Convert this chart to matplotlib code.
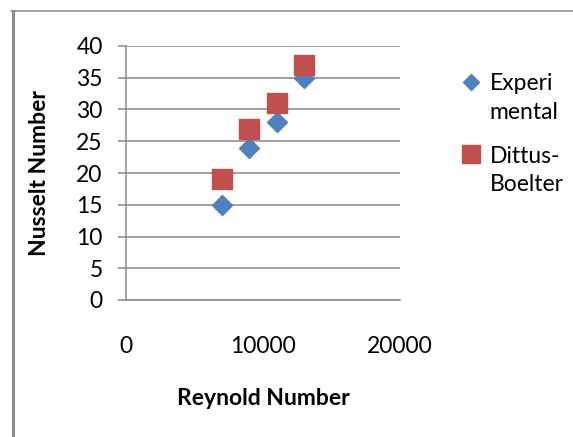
import matplotlib
matplotlib.use("Agg")
import matplotlib.pyplot as plt
from matplotlib.lines import Line2D

# data
reynolds = [7000, 9000, 11000, 13000]
nu_experimental = [15, 24, 28, 35]
nu_dittus_boelter = [19, 27, 31, 37]
y_ticks = [0, 5, 10, 15, 20, 25, 30, 35, 40]
x_ticks = [0, 10000, 20000]

plt.rcParams["font.family"] = ["Lato", "DejaVu Sans"]
grey = "#888888"
blue = "#4f81bd"
red = "#c0504d"
fs = 16.5

W, H = 573, 437
fig = plt.figure(figsize=(W / 100, H / 100), dpi=100)
ax = fig.add_axes([126 / W, 1 - 300 / H, (400 - 126) / W, (300 - 46) / H])

ax.plot(reynolds, nu_experimental, linestyle="none", marker="D", markersize=9.8,
        color=blue, label="Experi\nmental", zorder=3, clip_on=False)
ax.plot(reynolds, nu_dittus_boelter, linestyle="none", marker="s", markersize=14.5,
        color=red, label="Dittus-\nBoelter", zorder=3, clip_on=False)

ax.set_xlim(0, 20000)
ax.set_ylim(0, 40)
ax.set_xticks(x_ticks)
ax.set_yticks(y_ticks)
ax.set_yticklabels([str(v) for v in y_ticks])
ax.set_xticklabels([str(v) for v in x_ticks])
ax.yaxis.grid(True, color=grey, linewidth=1.1)
ax.set_axisbelow(True)

for side in ["top", "right"]:
    ax.spines[side].set_visible(False)
for side in ["left", "bottom"]:
    ax.spines[side].set_color(grey)
    ax.spines[side].set_linewidth(1.1)

ax.tick_params(axis="y", direction="out", length=5.8, width=1.1, color=grey,
               labelsize=fs, pad=11)
ax.tick_params(axis="x", length=0, labelsize=fs, pad=26)

ax.set_ylabel("Nusselt Number", fontsize=fs, fontweight="bold")
ax.set_xlabel("Reynold Number", fontsize=fs, fontweight="bold")
ax.yaxis.set_label_coords((50 - 126) / (400 - 126), 0.5)
ax.xaxis.set_label_coords((263 - 126) / (400 - 126), -(388 - 300) / (300 - 46))

ls = 1.45
leg = ax.legend(loc="upper left", bbox_to_anchor=(453 / W, 1 - 64 / H),
                bbox_transform=fig.transFigure, frameon=False, fontsize=fs,
                handlelength=0.75, handletextpad=0.45, labelspacing=1.0,
                borderaxespad=0, markerscale=0.88)
for t in leg.get_texts():
    t.set_linespacing(ls)
# put each legend marker next to the first line of its two-line label
for h in leg.legend_handles:
    h.set_ydata([y + 0.5 * ls * fs for y in h.get_ydata()])

# chart frame (left and top edges visible in the crop)
fig.add_artist(Line2D([12.5 / W, 12.5 / W], [0, 1 - 10.5 / H],
                      transform=fig.transFigure, color="#8c8c8c", linewidth=2.2))
fig.add_artist(Line2D([11.4 / W, 1], [1 - 10.5 / H, 1 - 10.5 / H],
                      transform=fig.transFigure, color="#8c8c8c", linewidth=1.1))

fig.savefig("out.png", dpi=100)
